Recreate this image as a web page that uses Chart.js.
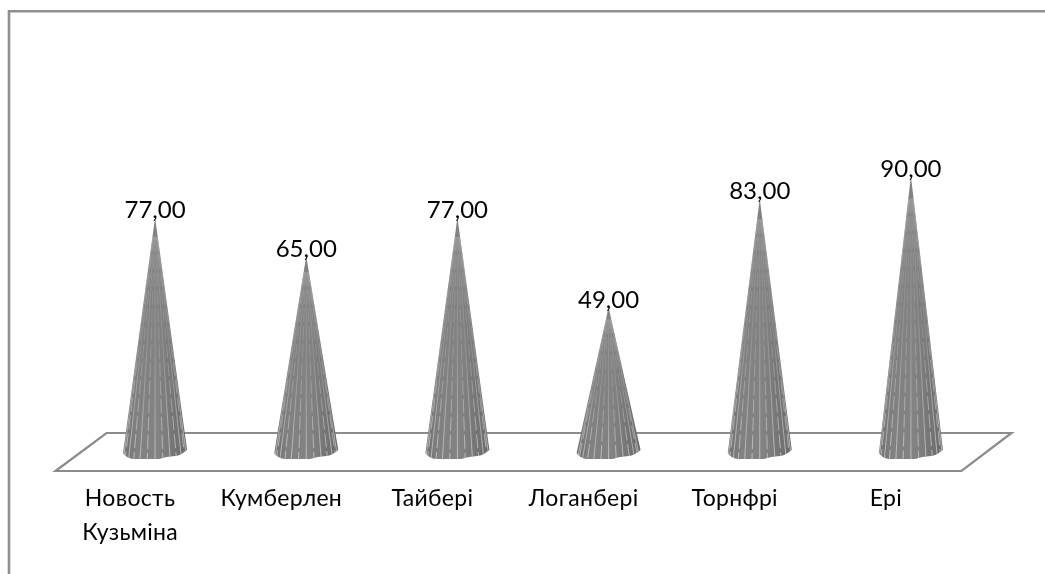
<!DOCTYPE html>
<html>
<head>
<meta charset="utf-8">
<title>Cone chart</title>
<script src="https://cdn.jsdelivr.net/npm/chart.js"></script>
<style>
    html, body { margin: 0; padding: 0; background: #fff; overflow: hidden; }
    #wrap { position: relative; width: 1045px; height: 574px; }
</style>
</head>
<body>
<div id="wrap"><canvas id="coneChart" width="1045" height="574"></canvas></div>
<script>
const categories = [['Новость', 'Кузьміна'], 'Кумберлен', 'Тайбері', 'Логанбері', 'Торнфрі', 'Ері'];
const values = [77, 65, 77, 49, 83, 90];

const FONT = 'Lato, "Open Sans", sans-serif';

// Outer frame, only top and left edges are visible
const framePlugin = {
    id: 'frame',
    beforeDraw(chart) {
        const ctx = chart.ctx;
        ctx.letterSpacing = '0.3px';
        ctx.save();
        ctx.strokeStyle = '#8e8e8e';
        ctx.lineWidth = 2.6;
        ctx.beginPath();
        ctx.moveTo(9, chart.height);
        ctx.lineTo(9, 11.3);
        ctx.lineTo(chart.width, 11.3);
        ctx.stroke();
        ctx.restore();
    }
};

// Slanted floor under the cones
const floorPlugin = {
    id: 'floor',
    beforeDatasetsDraw(chart) {
        const ctx = chart.ctx;
        const area = chart.chartArea;
        const y0 = chart.scales.y.getPixelForValue(0);
        ctx.save();
        ctx.strokeStyle = '#8c8c8c';
        ctx.lineWidth = 2.2;
        ctx.lineJoin = 'miter';
        ctx.beginPath();
        ctx.moveTo(area.left - 24, y0 + 7);
        ctx.lineTo(area.left + 27, y0 - 31);
        ctx.lineTo(area.right + 25, y0 - 31);
        ctx.lineTo(area.right - 25, y0 + 7);
        ctx.closePath();
        ctx.stroke();
        ctx.restore();
    }
};

// b is the lowest point of the cone's rim, a little above the zero line
function conePath(ctx, x, tip, b) {
    ctx.beginPath();
    ctx.moveTo(x, tip);
    ctx.lineTo(x + 32, b - 9);
    ctx.quadraticCurveTo(x + 26, b - 3.5, x + 20, b - 3);
    ctx.quadraticCurveTo(x + 11, b - 2.5, x + 4, b);
    ctx.lineTo(x - 22, b);
    ctx.quadraticCurveTo(x - 29, b - 1, x - 32, b - 6);
    ctx.closePath();
}

// Each bar is painted as a ribbed cone
const conePlugin = {
    id: 'cones',
    afterDatasetsDraw(chart) {
        const ctx = chart.ctx;
        const meta = chart.getDatasetMeta(0);
        const r = 32;
        meta.data.forEach((bar, i) => {
            const x = bar.x;
            const tip = bar.y;
            const b = bar.base - 5;
            const shade = ctx.createLinearGradient(x - r, 0, x + r, 0);
            shade.addColorStop(0, '#6e6e6e');
            shade.addColorStop(0.2, '#808080');
            shade.addColorStop(0.55, '#838383');
            shade.addColorStop(0.85, '#727272');
            shade.addColorStop(1, '#696969');
            ctx.save();
            conePath(ctx, x, tip, b);
            ctx.fillStyle = shade;
            ctx.fill();
            ctx.clip();
            // ribs fan out from the tip
            ctx.lineWidth = 1;
            for (let k = -6; k <= 6; k++) {
                const off = Math.sin(k / 6.4 * Math.PI / 2) * r;
                const rib = ctx.createLinearGradient(0, tip, 0, b);
                rib.addColorStop(0, 'rgba(185,185,185,0.28)');
                rib.addColorStop(0.5, 'rgba(185,185,185,0.3)');
                rib.addColorStop(1, 'rgba(210,210,210,0.75)');
                ctx.strokeStyle = rib;
                ctx.setLineDash(k % 2 === 0 ? [] : [14, 4]);
                ctx.beginPath();
                ctx.moveTo(x + off * 0.08, tip + (b - tip) * 0.08);
                ctx.lineTo(x + off * 1.02, b + 6);
                ctx.stroke();
            }
            ctx.restore();
            // value label sits on the tip
            ctx.save();
            ctx.fillStyle = '#000';
            ctx.font = '24px ' + FONT;
            ctx.letterSpacing = '0px';
            ctx.textAlign = 'center';
            ctx.textBaseline = 'middle';
            ctx.fillText(values[i].toFixed(2).replace('.', ','), x, tip - 7);
            ctx.restore();
        });
    }
};

new Chart(document.getElementById('coneChart'), {
    type: 'bar',
    data: {
        labels: categories,
        datasets: [{
            data: values,
            backgroundColor: 'rgba(0,0,0,0)',
            borderWidth: 0,
            barThickness: 64
        }]
    },
    options: {
        responsive: false,
        animation: false,
        layout: { padding: { left: 79.5, right: 58.5, top: 144, bottom: 0 } },
        plugins: { legend: { display: false }, tooltip: { enabled: false } },
        scales: {
            x: {
                border: { display: false },
                grid: { display: false, drawTicks: false },
                ticks: {
                    color: '#000',
                    font: { family: FONT, size: 23, lineHeight: 1.48 },
                    labelOffset: -25,
                    padding: 18,
                    maxRotation: 0,
                    autoSkip: false
                },
                afterFit(scale) { scale.height = 110; }
            },
            y: {
                display: false,
                min: 0,
                max: 100
            }
        }
    },
    plugins: [framePlugin, floorPlugin, conePlugin]
});
</script>
</body>
</html>
